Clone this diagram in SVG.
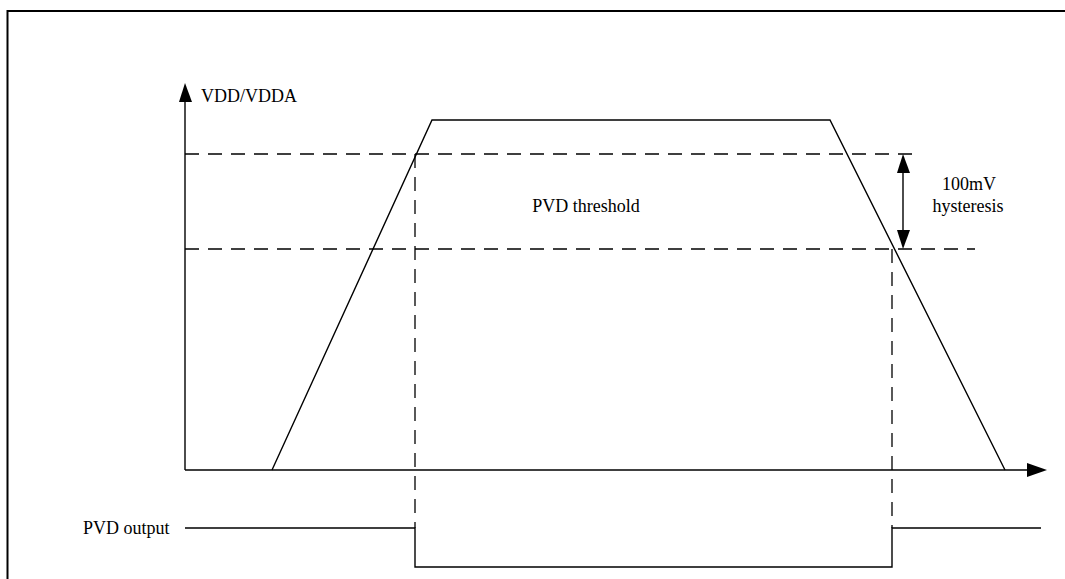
<svg xmlns="http://www.w3.org/2000/svg" width="1065" height="579" viewBox="0 0 1065 579">
<style>
.ln{fill:none;stroke:#000;stroke-width:1.4}
.ds{fill:none;stroke:#000;stroke-width:1.3;stroke-dasharray:14 9}
.t{font-family:"Liberation Serif","Times New Roman",serif;font-size:18px;fill:#000}
.ah{fill:#000}
</style>
<rect x="0" y="0" width="1065" height="579" fill="#fff"/>
<path d="M7.5,579 V11 H1065" fill="none" stroke="#000" stroke-width="2"/>
<g id="axes">
<line class="ln" x1="185" y1="470" x2="185" y2="98"/>
<polygon class="ah" points="185,83 179,102 192,102"/>
<line class="ln" x1="185" y1="470" x2="1030" y2="470"/>
<polygon class="ah" points="1047,470 1027,463 1027,477"/>
<text class="t" x="201" y="102">VDD/VDDA</text>
</g>
<g id="vdd-curve">
<polyline class="ln" points="272,470 432,120 830,120 1005,470"/>
</g>
<g id="thresholds">
<line class="ds" x1="185" y1="154" x2="918" y2="154"/>
<line class="ds" x1="185" y1="249" x2="975" y2="249"/>
<text class="t" x="586" y="212" text-anchor="middle">PVD threshold</text>
</g>
<g id="connectors">
<line class="ds" x1="415" y1="154" x2="415" y2="528"/>
<line class="ds" x1="892" y1="249" x2="892" y2="528"/>
</g>
<g id="hysteresis">
<line class="ln" x1="903" y1="170" x2="903" y2="233"/>
<polygon class="ah" points="903,154 897,173 910,173"/>
<polygon class="ah" points="903,249 897,230 910,230"/>
<text class="t" x="969" y="190" text-anchor="middle">100mV</text>
<text class="t" x="968" y="212" text-anchor="middle">hysteresis</text>
</g>
<g id="pvd-output">
<text class="t" x="83" y="534">PVD output</text>
<polyline class="ln" points="185,528 415,528 415,567 892,567 892,528 1041,528"/>
</g>
</svg>
